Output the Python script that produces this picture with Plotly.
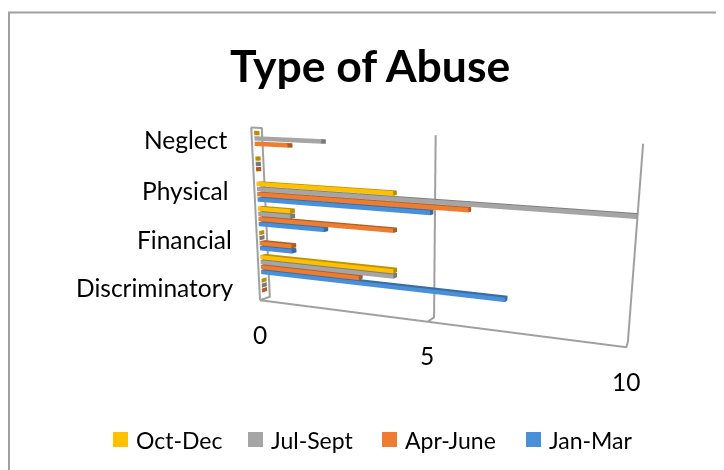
import plotly.graph_objects as go

# categories bottom to top, only every other label is shown in the chart
categories = ["Discriminatory", "", "Financial", "", "Physical", "", "Neglect"]
series_names = ["Jan-Mar", "Apr-June", "Jul-Sept", "Oct-Dec"]
series_colors = ["#4a90d9", "#ed7d31", "#a5a5a5", "#ffc000"]

# blank cells draw nothing, zeros still leave a small stub
jan_mar = [None, 7, 1, 2, 5, None, None]
apr_june = [0, 3, 1, 4, 6, 0, 1]
jul_sept = [0, 4, 0, 1, 10, 0, 2]
oct_dec = [0, 4, 0, 1, 4, 0, 0]
series_values = [jan_mar, apr_june, jul_sept, oct_dec]

value_ticks = [0, 5, 10]

# the page body has an 8px margin; figure runs past the window edges so the
# scene centre can sit where the original's perspective has it
OFF = 8
W, H = 850, 480
GRID = "#a0a0a0"
DEPTH = 1.0
BAR_H = 0.17  # bar thickness in category units
STEP = 0.21  # distance between bars in a cluster


def px(x):
    return (x - OFF) / W


def py(y):
    return 1 - (y - OFF) / H


def box(x1, y0, y1, z0, z1):
    # cuboid from value 0 to x1
    xs = [0, x1, x1, 0, 0, x1, x1, 0]
    ys = [y0, y0, y1, y1, y0, y0, y1, y1]
    zs = [z0, z0, z0, z0, z1, z1, z1, z1]
    i = [0, 0, 4, 4, 0, 0, 1, 1, 2, 2, 3, 3]
    j = [1, 2, 5, 6, 1, 5, 2, 6, 3, 7, 0, 4]
    k = [2, 3, 6, 7, 5, 4, 6, 5, 7, 6, 4, 7]
    return xs, ys, zs, i, j, k


fig = go.Figure()

for s, values in enumerate(series_values):
    X, Y, Z, I, J, K = [], [], [], [], [], []
    for c, v in enumerate(values):
        if v is None:
            continue
        z0 = c - 2 * STEP + s * STEP
        xs, ys, zs, i, j, k = box(v, 0.25 * DEPTH, 0.75 * DEPTH, z0, z0 + BAR_H)
        n = len(X)
        X += xs
        Y += ys
        Z += zs
        I += [a + n for a in i]
        J += [a + n for a in j]
        K += [a + n for a in k]
    fig.add_trace(go.Mesh3d(
        x=X, y=Y, z=Z, i=I, j=J, k=K,
        color=series_colors[s], flatshading=True,
        lighting=dict(ambient=0.72, diffuse=0.3, specular=0, fresnel=0),
        lightposition=dict(x=0, y=-100000, z=20000),
        hoverinfo="skip", showlegend=False,
    ))

zlo, zhi = -0.5, len(categories) - 0.5


# walls and grid lines
def frame(x, y, z):
    fig.add_trace(go.Scatter3d(
        x=x, y=y, z=z, mode="lines",
        line=dict(color=GRID, width=4),
        hoverinfo="skip", showlegend=False,
    ))


frame([0, 10, 10, 10], [0, 0, DEPTH, DEPTH], [zlo, zlo, zlo, zhi])
frame([5, 5, 5], [0, DEPTH, DEPTH], [zlo, zlo, zhi])
frame([0, 0, 0, 0, 0], [0, DEPTH, DEPTH, 0, 0], [zlo, zlo, zhi, zhi, zlo])

# labels stay real text, tied to the scene coordinates
scene_notes = []
for c, name in enumerate(categories):
    if name:
        scene_notes.append(dict(
            x=0, y=0, z=c, text=name, showarrow=False, xanchor="right",
            yanchor="middle", xshift=-23, yshift=1,
            font=dict(family="Lato", size=24.5, color="#000000"),
        ))
for t in value_ticks:
    scene_notes.append(dict(
        x=t, y=0, z=zlo, text=str(t), showarrow=False, yanchor="middle",
        yshift=-34, font=dict(family="Lato", size=24.5, color="#000000"),
    ))

no_axis = dict(visible=False, showgrid=False, zeroline=False, showspikes=False)
fig.update_layout(
    width=W, height=H,
    autosize=False,
    paper_bgcolor="#ffffff",
    margin=dict(l=0, r=0, t=0, b=0),
    showlegend=False,
    scene=dict(
        domain=dict(x=[0.2587, 0.9797], y=[1 - 471 / H, 1 - 9 / H]),
        # ranges a little past the frame, lines on the exact bound get clipped
        xaxis=dict(range=[-0.05, 10.05], **no_axis),
        yaxis=dict(range=[-0.1, DEPTH + 0.1], **no_axis),
        zaxis=dict(range=[zlo - 0.05, zhi + 0.05], **no_axis),
        aspectmode="manual",
        aspectratio=dict(x=2.11, y=0.096, z=0.984),
        camera=dict(
            eye=dict(x=1.221, y=-2.643, z=0.468),
            center=dict(x=0.525, y=0.120, z=-0.069),
            up=dict(x=-0.087, y=0.1707, z=0.982),
        ),
        annotations=scene_notes,
    ),
)

# title, border, legend
fig.add_annotation(
    x=px(370), y=py(64), xref="paper", yref="paper", text="<b>Type of Abuse</b>",
    showarrow=False, xanchor="center", yanchor="middle",
    font=dict(family="Lato", size=44.5, color="#000000"),
)
# only the top and left edges of the chart border fall inside the window
fig.add_shape(type="rect", xref="paper", yref="paper",
              x0=px(9), x1=1.05, y0=-0.05, y1=py(12.5),
              line=dict(color="#a0a0a0", width=2))

legend_order = [3, 2, 1, 0]
legend_x = [113, 248, 382, 526]
for s, lx in zip(legend_order, legend_x):
    fig.add_shape(type="rect", xref="paper", yref="paper",
                  x0=px(lx), x1=px(lx + 15), y0=py(447), y1=py(432),
                  fillcolor=series_colors[s], line=dict(width=0))
    fig.add_annotation(
        x=px(lx + 21), y=py(440), xref="paper", yref="paper",
        text=series_names[s], showarrow=False, xanchor="left", yanchor="middle",
        font=dict(family="Lato", size=23, color="#000000"),
    )

fig.write_html("out.html")
